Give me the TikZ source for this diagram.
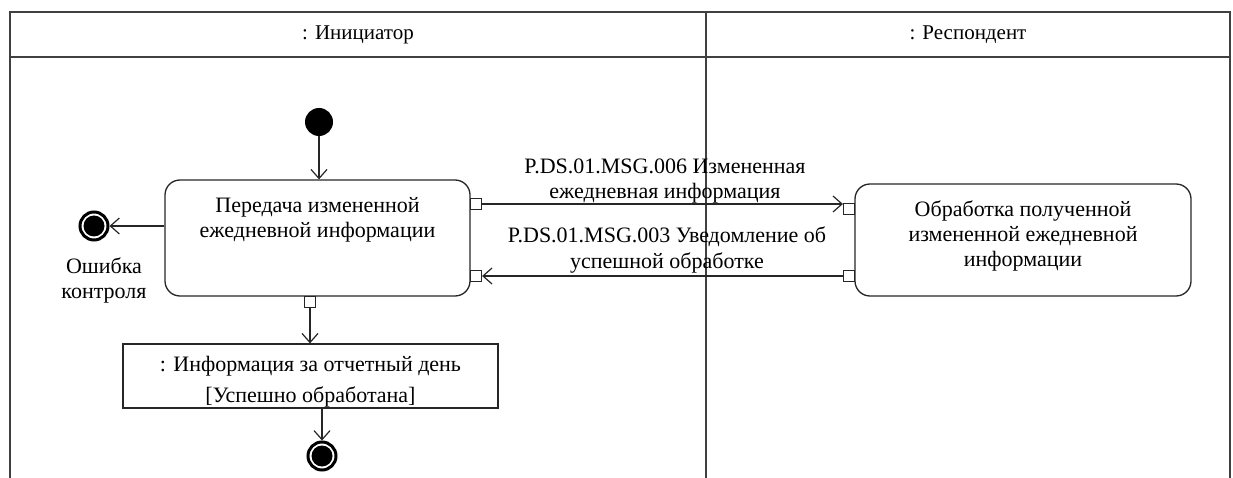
\documentclass[tikz,border=0pt]{standalone}
\usepackage{fontspec}
\setmainfont{Liberation Serif}
\usetikzlibrary{arrows.meta}
\begin{document}
\begin{tikzpicture}[x=1pt,y=-1pt,
  lane/.style={draw=black!75,line width=1.8pt},
  act/.style={draw=black!85,line width=1.3pt,rounded corners=15pt,rectangle,inner sep=0pt},
  objbox/.style={draw=black!85,line width=1.3pt,rectangle,inner sep=0pt},
  port/.style={draw=black!85,line width=1.2pt,fill=white,rectangle,minimum size=11pt,inner sep=0pt},
  flow/.style={draw=black!85,line width=1.2pt,-{Straight Barb[length=9pt,width=16pt]}},
  txt/.style={font=\fontsize{22}{25}\selectfont,align=center,inner sep=0pt},
  hdr/.style={font=\fontsize{21}{24}\selectfont,inner sep=0pt},
  initnode/.style={circle,fill=black,minimum size=28pt,inner sep=0pt},
  finalnode/.style={circle,draw=black,line width=3pt,minimum size=28pt,inner sep=0pt,
    path picture={\fill[black] (path picture bounding box.center) circle[radius=10.5pt];}},
]
\useasboundingbox (0,0) rectangle (1233,478);
% frame and swimlanes
\draw[lane] (10,478) -- (10,12) -- (1230,12) -- (1230,478);
\draw[lane] (10,57) -- (1230,57);
\draw[lane] (706,12) -- (706,478);
\node[hdr] (h1) at (358,35) {: Инициатор};
\node[hdr] (h2) at (968,35) {: Респондент};

% nodes
\node[initnode] (init) at (319,122) {};
\node[act,minimum width=305pt,minimum height=116pt] (act1) at (317.5,238) {};
\node[txt] (t1) at (317.5,220) {Передача измененной\\ежедневной информации};
\node[act,minimum width=336pt,minimum height=112pt] (act2) at (1023,240) {};
\node[txt] (t2) at (1023,236) {Обработка полученной\\измененной ежедневной\\информации};
\node[finalnode] (fin1) at (94,226) {};
\node[txt] (lbl) at (104,280) {Ошибка\\контроля};
\node[objbox,minimum width=375pt,minimum height=64pt] (obj) at (310.5,376) {};
\node[txt] (o1) at (310.5,366) {: Информация за отчетный день};
\node[txt] (o2) at (310.5,397) {[Успешно обработана]};
\node[finalnode] (fin2) at (322,456) {};

% ports
\node[port] (p1) at (476,204) {};
\node[port] (p2) at (476,276) {};
\node[port] (p3) at (849,209) {};
\node[port] (p4) at (849,276) {};
\node[port] (p5) at (310,302) {};

% message labels
\node[txt] (m1) at (665,181) {P.DS.01.MSG.006 Измененная\\ежедневная информация};
\node[txt] (m2) at (667,250) {P.DS.01.MSG.003 Уведомление об\\успешной обработке};

% connectors
\draw[flow] (init.south) -- (init.south |- act1.north);
\draw[flow] (act1.west |- fin1) -- (fin1.east);
\draw[flow] (p1.east) -- (p1.east -| p3.west);
\draw[flow] (p4.west) -- (p2.east);
\draw[flow] (p5.south) -- (p5.south |- obj.north);
\draw[flow] (obj.south -| fin2) -- (fin2.north);
\end{tikzpicture}
\end{document}
